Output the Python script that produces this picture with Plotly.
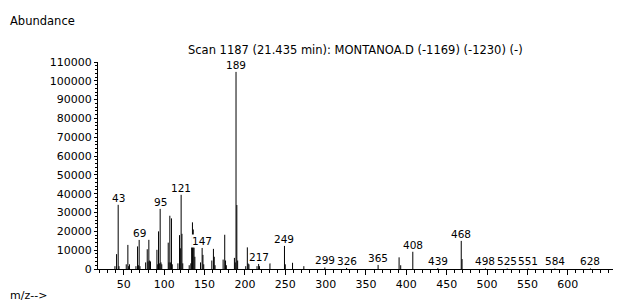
import plotly.graph_objects as go

# m/z values and abundances
mz = [39, 41, 43, 44, 53, 55, 56, 57, 65, 67, 68, 69, 70, 77, 79, 80, 81, 82, 83,
      91, 92, 93, 94, 95, 96, 97, 105, 106, 107, 108, 109, 110, 117, 119, 120, 121,
      122, 123, 131, 133, 134, 135, 136, 137, 138, 145, 147, 148, 149, 159, 161,
      162, 163, 173, 175, 176, 177, 187, 188, 189, 190, 191, 201, 203, 204, 205,
      215, 217, 218, 231, 249, 250, 259, 273, 299, 326, 365, 391, 393, 408, 439,
      468, 469, 498, 525, 551, 584, 628]
abundance = [1500, 7900, 34200, 1500, 2500, 12800, 1500, 2500, 1500, 12000, 2000,
             15500, 1500, 3500, 10500, 4000, 15500, 4500, 4000,
             10200, 2500, 20000, 3000, 32000, 3500, 2500, 14000, 3500, 28300, 3500,
             26900, 2500, 3000, 18000, 11000, 39500,
             18700, 3000, 2000, 3000, 11500, 24800, 21000, 11500, 6500, 3500, 11200,
             7500, 2500, 4500, 10700,
             6500, 2000, 5000, 18200, 4500, 2000, 5900, 3500, 104800, 34000, 4500,
             1500, 11500, 3000, 2500,
             1500, 2700, 1500, 3000, 12300, 2500, 3300, 1500, 800, 600, 2200, 6200,
             2000, 9300, 500,
             15000, 5300, 300, 300, 300, 300, 300]

label_mz = [43, 69, 95, 121, 147, 189, 217, 249, 299, 326, 365, 408, 439, 468,
            498, 525, 551, 584, 628]

y_ticks = list(range(0, 110001, 10000))
x_ticks = list(range(50, 601, 50))

title_text = "Scan 1187 (21.435 min): MONTANOA.D (-1169) (-1230) (-)"

# build stick segments
xs, ys = [], []
for m, a in zip(mz, abundance):
    xs += [m, m, None]
    ys += [0, a, None]

fig = go.Figure()
fig.add_trace(go.Scatter(x=xs, y=ys, mode="lines",
                         line=dict(color="black", width=1),
                         hoverinfo="skip", showlegend=False))

FONT = "DejaVu Sans"
ab = dict(zip(mz, abundance))
for m in label_mz:
    fig.add_annotation(x=m, y=ab[m], xref="x", yref="y", text=str(m),
                       showarrow=False, yanchor="bottom", xanchor="center",
                       yshift=0, bgcolor="white", borderpad=0,
                       font=dict(family=FONT, size=10.5, color="black"))

fig.add_annotation(x=0.5, y=1, xref="paper", yref="paper", text=title_text,
                   showarrow=False, xanchor="center", yanchor="middle", yshift=12,
                   font=dict(family=FONT, size=11.5, color="black"))
fig.add_annotation(x=(8 - 98) / 515, y=1 + (63 - 22) / 207, xref="paper", yref="paper",
                   text="Abundance", showarrow=False, xanchor="left", yanchor="middle",
                   font=dict(family=FONT, size=11.5, color="black"))
fig.add_annotation(x=(8 - 98) / 515, y=(269 - 295) / 207, xref="paper", yref="paper",
                   text="m/z-->", showarrow=False, xanchor="left", yanchor="middle",
                   font=dict(family=FONT, size=11, color="black"))

fig.update_layout(
    width=624, height=305,
    margin=dict(l=98, r=11, t=62, b=36),
    paper_bgcolor="white", plot_bgcolor="white",
    font=dict(family=FONT, size=11, color="black"),
    xaxis=dict(range=[18, 656], tickvals=x_ticks, ticktext=[str(v) for v in x_ticks],
               ticks="outside", ticklen=5, tickcolor="black", tickwidth=1,
               showline=True, linecolor="black", linewidth=1, showgrid=False,
               zeroline=False, tickfont=dict(size=11),
               minor=dict(dtick=10, tick0=0, ticks="outside", ticklen=3,
                          tickcolor="black", showgrid=False)),
    yaxis=dict(range=[0, 110000], tickvals=y_ticks, ticktext=[str(v) for v in y_ticks],
               ticks="outside", ticklen=3, tickcolor="black", tickwidth=1,
               showline=True, linecolor="black", linewidth=1, showgrid=False,
               zeroline=False, tickfont=dict(size=11),
               minor=dict(dtick=2000, tick0=0, ticks="outside", ticklen=2,
                          tickcolor="black", showgrid=False)),
)

fig.write_html("out.html", config={"displayModeBar": False},
               post_script="document.body.style.margin='0';")
